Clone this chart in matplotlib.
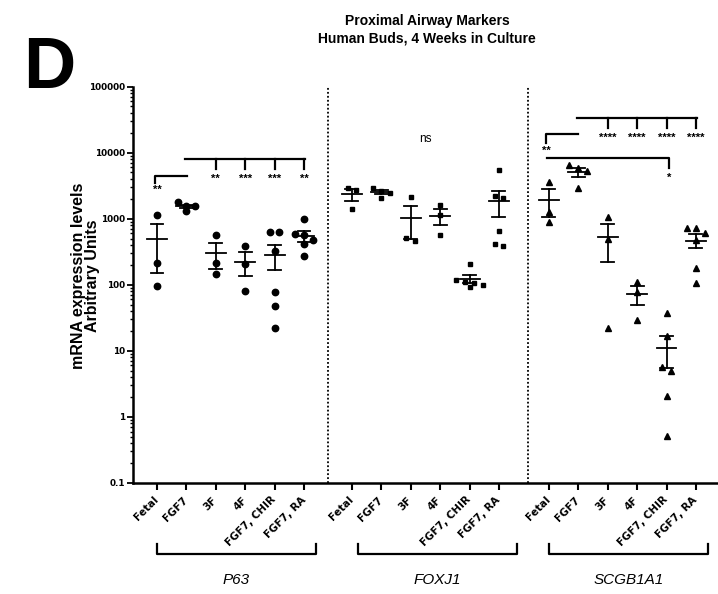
import numpy as np
import matplotlib
matplotlib.use("Agg")
import matplotlib.pyplot as plt
from matplotlib.ticker import FixedLocator, LogLocator, NullFormatter

# ---------------- data ----------------
conditions = ["Fetal", "FGF7", "3F", "4F", "FGF7, CHIR", "FGF7, RA"]
genes = ["P63", "FOXJ1", "SCGB1A1"]

p63_fetal = [1150, 210, 95]
p63_fgf7 = [1770, 1540, 1540, 1300]
p63_3f = [560, 210, 145]
p63_4f = [380, 205, 80]
p63_chir = [620, 620, 320, 77, 47, 22]
p63_ra = [1000, 580, 560, 480, 420, 270]

foxj1_fetal = [2950, 2700, 1400]
foxj1_fgf7 = [2900, 2600, 2450, 2050]
foxj1_3f = [2100, 510, 460]
foxj1_4f = [1600, 1130, 565]
foxj1_chir = [205, 120, 110, 105, 100, 92]
foxj1_ra = [5500, 2180, 2030, 650, 414, 386]

scgb_fetal = [3650, 1250, 890]
scgb_fgf7 = [6400, 5750, 5350, 2900]
scgb_3f = [1050, 490, 22]
scgb_4f = [110, 79, 29]
scgb_chir = [37, 17, 5.6, 4.9, 2.1, 0.52]
scgb_ra = [720, 720, 605, 470, 180, 107]

p63_stars = ["**", "***", "***", "**"]
scgb_stars = ["****", "****", "****", "****"]

series = [
    [p63_fetal, p63_fgf7, p63_3f, p63_4f, p63_chir, p63_ra],
    [foxj1_fetal, foxj1_fgf7, foxj1_3f, foxj1_4f, foxj1_chir, foxj1_ra],
    [scgb_fetal, scgb_fgf7, scgb_3f, scgb_4f, scgb_chir, scgb_ra],
]
markers = ["o", "s", "^"]
msizes = [4.6, 3.4, 4.4]

# ---------------- figure ----------------
W, H = 718, 594
fig = plt.figure(figsize=(W / 100, H / 100), dpi=100)
ax_l, ax_r, ax_b, ax_t = 133, 718, 483, 86.5
ax = fig.add_axes([ax_l / W, 1 - ax_b / H, (ax_r - ax_l) / W, (ax_b - ax_t) / H])

FONT = ["Liberation Sans", "DejaVu Sans"]
plt.rcParams["font.family"] = FONT

group_start = [0.0, 6.63, 13.33]
ax.set_xlim((ax_l - 157) / 29.4, (ax_r - 157) / 29.4)
ax.set_yscale("log")
ax.set_ylim(0.1, 1e5)

px_per_dec = (ax_b - ax_t) / 6.0
unit_px = 29.4


def swarm_offsets(vals, d_px=6.0, step=0.30):
    yv = np.log10(np.asarray(vals, float)) * px_per_dec
    order = np.argsort(-yv)
    offs = np.zeros(len(vals))
    rows = []
    for i in order:
        if rows and abs(yv[rows[-1][0]] - yv[i]) < d_px:
            rows[-1].append(i)
        else:
            rows.append([i])
    for r in rows:
        k = len(r)
        for j, idx in enumerate(r):
            offs[idx] = (j - (k - 1) / 2) * step
    return offs


xticks = []
for g, grp in enumerate(series):
    for c, vals in enumerate(grp):
        x0 = group_start[g] + c
        xticks.append(x0)
        vals = np.asarray(vals, float)
        offs = swarm_offsets(vals)
        ax.plot(x0 + offs, vals, linestyle="none", marker=markers[g],
                ms=msizes[g], color="black", zorder=3, clip_on=False)
        m = vals.mean()
        sem = vals.std(ddof=1) / np.sqrt(len(vals))
        lo, hi = m - sem, m + sem
        lw = 1.3
        ax.plot([x0 - 0.34, x0 + 0.34], [m, m], color="black", lw=lw, zorder=4)
        ax.plot([x0, x0], [lo, hi], color="black", lw=lw, zorder=4)
        ax.plot([x0 - 0.22, x0 + 0.22], [lo, lo], color="black", lw=lw, zorder=4)
        ax.plot([x0 - 0.22, x0 + 0.22], [hi, hi], color="black", lw=lw, zorder=4)

# dotted dividers
for xd in [(328 - 157) / 29.4, (528 - 157) / 29.4]:
    ax.axvline(xd, color="black", lw=1.3, linestyle=(0, (1, 1.2)), zorder=1)

# spines / ticks
for s in ["top", "right"]:
    ax.spines[s].set_visible(False)
ax.spines["left"].set_linewidth(1.8)
ax.spines["bottom"].set_linewidth(1.8)

ax.set_xticks(xticks)
ax.set_xticklabels(conditions * 3, rotation=45, ha="right", va="center",
                   rotation_mode="anchor", fontsize=7.5, fontweight="bold")
ax.tick_params(axis="x", length=5, width=1.5, pad=6)

ax.yaxis.set_major_locator(FixedLocator([0.1, 1, 10, 100, 1000, 10000, 100000]))
ax.set_yticklabels(["0.1", "1", "10", "100", "1000", "10000", "100000"],
                   fontsize=6.4, fontweight="bold")
ax.yaxis.set_minor_locator(LogLocator(base=10, subs=np.arange(2, 10)))
ax.yaxis.set_minor_formatter(NullFormatter())
ax.tick_params(axis="y", which="major", length=4.5, width=1.3, pad=1)
ax.tick_params(axis="y", which="minor", length=2.5, width=1.0)

# ---------------- significance ----------------
def px2val(y):
    return 10 ** ((ax_b - y) / px_per_dec - 1)

def px2x(x):
    return (x - 157) / 29.4

bl = 1.6
# P63 small bracket
ax.plot([px2x(155), px2x(155), px2x(187)], [px2val(183), px2val(176), px2val(176)],
        color="black", lw=bl)
ax.text(px2x(157), px2val(190), "**", ha="center", va="center", fontsize=8, fontweight="bold")
# P63 big bracket
ax.plot([px2x(185), px2x(305)], [px2val(159), px2val(159)], color="black", lw=bl)
for k, st in enumerate(p63_stars):
    xx = group_start[0] + 2 + k
    ax.plot([xx, xx], [px2val(159), px2val(169)], color="black", lw=bl)
    ax.text(xx, px2val(179), st, ha="center", va="center", fontsize=8, fontweight="bold")

# FOXJ1 ns
ax.text(group_start[1] + 2.5, px2val(139), "ns", ha="center", va="center", fontsize=8.5)

# SCGB1A1 small bracket
ax.plot([px2x(546), px2x(546), px2x(578)], [px2val(143), px2val(134), px2val(134)],
        color="black", lw=bl)
ax.text(px2x(546), px2val(151), "**", ha="center", va="center", fontsize=8, fontweight="bold")
# SCGB1A1 big bracket
ax.plot([px2x(577), px2x(697)], [px2val(118), px2val(118)], color="black", lw=bl)
for k, st in enumerate(scgb_stars):
    xx = group_start[2] + 2 + k
    ax.plot([xx, xx], [px2val(118), px2val(128)], color="black", lw=bl)
    ax.text(xx, px2val(138), st, ha="center", va="center", fontsize=8, fontweight="bold")
# SCGB1A1 fetal vs CHIR
ax.plot([px2x(547), px2x(669), px2x(669)], [px2val(158), px2val(158), px2val(168)],
        color="black", lw=bl)
ax.text(px2x(669), px2val(178), "*", ha="center", va="center", fontsize=8, fontweight="bold")

# ---------------- gene brackets ----------------
trans = ax.get_xaxis_transform()
def fy(y):
    return (ax_b - y) / (ax_b - ax_t)

for (x1, x2), name in zip([(157, 316), (358, 517), (549, 708)], genes):
    ax.plot([px2x(x1), px2x(x1), px2x(x2), px2x(x2)], [fy(544), fy(554), fy(554), fy(544)],
            color="black", lw=1.6, transform=trans, clip_on=False)
    ax.text(px2x((x1 + x2) / 2), fy(580), name, transform=trans, ha="center", va="center",
            fontsize=11, style="italic")

# ---------------- titles ----------------
fig.text(427 / W, 1 - 29.5 / H, "Proximal Airway Markers\nHuman Buds, 4 Weeks in Culture",
         ha="center", va="center", fontsize=10, fontweight="bold", linespacing=1.3)
fig.text(49 / W, 1 - 69 / H, "D", ha="center", va="center", fontsize=52, fontweight="bold")
fig.text(85.5 / W, 1 - 276 / H, "mRNA expression levels\nArbitrary Units", ha="center",
         va="center", rotation=90, fontsize=11.5, fontweight="bold", linespacing=0.92)

fig.savefig("out.png", dpi=100)
